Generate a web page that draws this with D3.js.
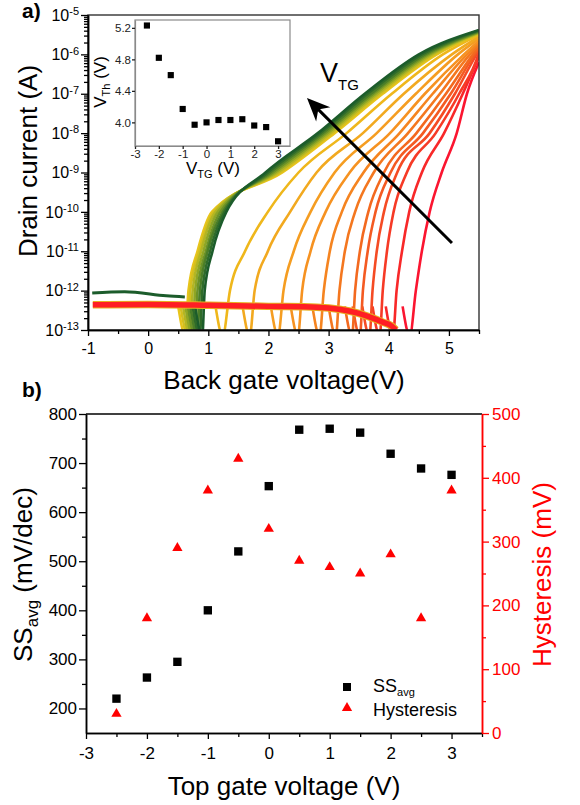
<!DOCTYPE html>
<html>
<head>
<meta charset="utf-8">
<script src="https://cdn.jsdelivr.net/npm/d3@7"></script>
<style>
  body { margin: 0; background: #fff; }
  svg { display: block; }
</style>
</head>
<body>
<script>
const FONT = "Arial, 'Liberation Sans', sans-serif";

// ---------- (a) transfer curves ----------
// log10(drain current) levels at which the crossing voltages are given
const levelExp = [-12, -11, -10, -9, -8, -7, -6];
const dipTopExp = -12.4;     // where a curve leaves the noise floor
const bottomExp = -13.15;    // bottom of the |I| dip
const edgeV = 5.5;

// green -> yellow bundle (high V_TG)
const clusterDips = [0.90, 0.86, 0.82, 0.78, 0.74, 0.70, 0.66, 0.62];
const clusterCross = [
  [0.94, 1.07, 1.30, 1.95, 2.82, 3.60, 4.50],
  [0.90, 1.03, 1.27, 1.99, 2.86, 3.65, 4.55],
  [0.86, 0.99, 1.24, 2.03, 2.90, 3.70, 4.60],
  [0.82, 0.96, 1.20, 2.07, 2.94, 3.74, 4.64],
  [0.78, 0.92, 1.16, 2.11, 2.98, 3.78, 4.68],
  [0.74, 0.88, 1.12, 2.15, 3.02, 3.82, 4.72],
  [0.70, 0.85, 1.09, 2.19, 3.06, 3.86, 4.76],
  [0.67, 0.82, 1.06, 2.23, 3.10, 3.90, 4.80]
];
const clusterEnd = [-5.38, -5.39, -5.41, -5.42, -5.44, -5.45, -5.47, -5.48];
const clusterColors = ["#1c5c2b", "#2f6b2a", "#4b7e28", "#6c9227", "#8fa625", "#b3b523", "#d3bf1f", "#e8c41b"];

// orange -> red curves (low V_TG)
const shiftDips = [1.24, 1.69, 2.16, 2.49, 2.85, 3.12, 3.39, 3.52, 3.68, 3.85, 4.07, 4.35];
const shiftCross = [
  [1.36, 1.61, 1.99, 2.50, 3.30, 4.05, 4.90],
  [1.77, 1.99, 2.36, 2.80, 3.57, 4.25, 5.05],
  [2.25, 2.42, 2.70, 3.10, 3.80, 4.45, 5.15],
  [2.56, 2.70, 2.95, 3.35, 4.02, 4.60, 5.25],
  [2.92, 3.02, 3.22, 3.58, 4.18, 4.73, 5.30],
  [3.18, 3.27, 3.44, 3.75, 4.32, 4.85, 5.35],
  [3.44, 3.52, 3.66, 3.92, 4.46, 4.95, 5.40],
  [3.57, 3.65, 3.78, 4.03, 4.57, 5.03, 5.43],
  [3.73, 3.80, 3.92, 4.14, 4.68, 5.10, 5.46],
  [3.90, 3.97, 4.08, 4.30, 4.78, 5.17, 5.49],
  [4.13, 4.22, 4.34, 4.55, 4.92, 5.23, null],
  [4.45, 4.55, 4.68, 4.88, 5.13, 5.30, null]
];
const shiftEnd = [-5.50, -5.55, -5.60, -5.65, -5.70, -5.75, -5.80, -5.85, -5.90, -5.95, -6.05, -6.20];
const shiftColors = ["#efb71b", "#f2a91f", "#f59d21", "#f69221", "#f58420", "#f4771f", "#f3691f", "#f45a22", "#f54b24", "#f63a26", "#f82829", "#fb1530"];

// noise floors
const floorV   = [-0.92, 0, 1, 2, 2.8, 3.2, 3.5, 3.7, 3.9, 4.05, 4.12];
const floorExp = [-12.36, -12.35, -12.37, -12.40, -12.42, -12.48, -12.58, -12.68, -12.80, -12.90, -13.0];
const greenFloorV   = [-0.93, -0.39, 0.3, 0.61];
const greenFloorExp = [-12.06, -12.03, -12.13, -12.16];

// V_TG arrow (tail, head)
const arrowV = [5.05, 2.64];
const arrowExp = [-10.79, -7.11];

const topXTicks = [-1, 0, 1, 2, 3, 4, 5];
const topXMinor = [-0.5, 0.5, 1.5, 2.5, 3.5, 4.5, 5.5];
const topYExps = [-13, -12, -11, -10, -9, -8, -7, -6, -5];

// inset: threshold voltage vs top gate
const insetVtg = [-2.5, -2, -1.5, -1, -0.5, 0, 0.5, 1, 1.5, 2, 2.5, 3];
const insetVth = [5.23, 4.82, 4.60, 4.17, 3.97, 4.00, 4.03, 4.03, 4.04, 3.96, 3.94, 3.76];
const insetXTicks = [-3, -2, -1, 0, 1, 2, 3];
const insetYTicks = [4.0, 4.4, 4.8, 5.2];

// ---------- (b) SS and hysteresis ----------
const topGate = [-2.5, -2, -1.5, -1, -0.5, 0, 0.5, 1, 1.5, 2, 2.5, 3];
const ssAvg = [220, 263, 295, 400, 520, 653, 768, 770, 762, 719, 689, 676];
const hyst  = [30, 180, 290, 380, 430, 320, 270, 260, 250, 280, 180, 380];
const bXTicks = [-3, -2, -1, 0, 1, 2, 3];
const bXMinor = [-2.5, -1.5, -0.5, 0.5, 1.5, 2.5, 3.5];
const ssTicks = [200, 300, 400, 500, 600, 700, 800];
const ssMinor = [250, 350, 450, 550, 650, 750];
const hTicks = [0, 100, 200, 300, 400, 500];
const hMinor = [50, 150, 250, 350, 450];

const svg = d3.select("body").append("svg")
    .attr("width", 580).attr("height", 805)
    .style("font-family", FONT);

function styleAxis(g, size, color) {
    g.attr("font-family", FONT).attr("font-size", size);
    g.select(".domain").attr("stroke", color).attr("stroke-width", 1.5);
    g.selectAll(".tick line").attr("stroke", color).attr("stroke-width", 1.3);
    g.selectAll(".tick text").attr("fill", color);
}

// ================= panel a =================
const xT = d3.scaleLinear().domain([-1, 5.5]).range([88, 479]);
const yT = d3.scaleLog().domain([1e-13, 1e-5]).range([330, 15]);
const p10 = e => Math.pow(10, e);

svg.append("defs").append("clipPath").attr("id", "clipA")
  .append("rect").attr("x", 88).attr("y", 15).attr("width", 391).attr("height", 315);

const curveLine = d3.line()
    .x(d => xT(d[0])).y(d => yT(p10(d[1])))
    .curve(d3.curveMonotoneX);

function curvePoints(dip, cross, end) {
    let pts = [[dip - 0.12, dipTopExp], [dip, bottomExp]];
    cross.forEach((v, i) => { if (v != null) pts.push([v, levelExp[i]]); });
    pts.push([edgeV, end]);
    return pts;
}

const plotA = svg.append("g").attr("clip-path", "url(#clipA)");

// reds first, then oranges, then the yellow->green bundle on top
for (let i = shiftDips.length - 1; i >= 0; i--) {
    plotA.append("path")
        .attr("d", curveLine(curvePoints(shiftDips[i], shiftCross[i], shiftEnd[i])))
        .attr("fill", "none").attr("stroke", shiftColors[i]).attr("stroke-width", 2.6);
}
for (let i = clusterDips.length - 1; i >= 0; i--) {
    plotA.append("path")
        .attr("d", curveLine(curvePoints(clusterDips[i], clusterCross[i], clusterEnd[i])))
        .attr("fill", "none").attr("stroke", clusterColors[i]).attr("stroke-width", 2.6);
}

// noise floors
plotA.append("path")
    .attr("d", curveLine(greenFloorV.map((v, i) => [v, greenFloorExp[i]])))
    .attr("fill", "none").attr("stroke", "#1c5c2b").attr("stroke-width", 3);
plotA.append("path")
    .attr("d", curveLine(floorV.map((v, i) => [v, floorExp[i]])))
    .attr("fill", "none").attr("stroke", "#e8b020").attr("stroke-width", 7.5);
plotA.append("path")
    .attr("d", curveLine(floorV.map((v, i) => [v, floorExp[i]])))
    .attr("fill", "none").attr("stroke", "#ff1e24").attr("stroke-width", 5.5);

// frame
svg.append("rect").attr("x", 88).attr("y", 15).attr("width", 391).attr("height", 315)
    .attr("fill", "none").attr("stroke", "#333").attr("stroke-width", 1.4);

// axes
const gxA = svg.append("g").attr("transform", "translate(0,330)")
    .call(d3.axisBottom(xT).tickValues(topXTicks).tickFormat(d => String(d))
        .tickSize(6).tickPadding(7).tickSizeOuter(0));
styleAxis(gxA, 16, "#000");
const gxAm = svg.append("g").attr("transform", "translate(0,330)")
    .call(d3.axisBottom(xT).tickValues(topXMinor).tickFormat("").tickSize(4).tickSizeOuter(0));
styleAxis(gxAm, 16, "#000");

let logMinor = [];
topYExps.slice(0, -1).forEach(e => { for (let k = 2; k <= 9; k++) logMinor.push(k * p10(e)); });
const gyAm = svg.append("g").attr("transform", "translate(88,0)")
    .call(d3.axisLeft(yT).tickValues(logMinor).tickFormat("").tickSize(4).tickSizeOuter(0));
styleAxis(gyAm, 16, "#000");
const gyA = svg.append("g").attr("transform", "translate(88,0)")
    .call(d3.axisLeft(yT).tickValues(topYExps.map(p10)).tickSize(7).tickPadding(2).tickSizeOuter(0));
styleAxis(gyA, 16, "#000");
gyA.selectAll(".tick text").each(function(d) {
    const t = d3.select(this).text("");
    t.append("tspan").text("10");
    t.append("tspan").attr("dy", "-0.5em").attr("font-size", 11)
        .text(String(Math.round(Math.log10(d))));
});

// arrow
const ax0 = xT(arrowV[0]), ay0 = yT(p10(arrowExp[0]));
const ax1 = xT(arrowV[1]), ay1 = yT(p10(arrowExp[1]));
const alen = Math.hypot(ax1 - ax0, ay1 - ay0);
const ang = Math.atan2(ay1 - ay0, ax1 - ax0) * 180 / Math.PI;
svg.append("line")
    .attr("x1", ax0).attr("y1", ay0)
    .attr("x2", ax1 - (ax1 - ax0) / alen * 12).attr("y2", ay1 - (ay1 - ay0) / alen * 12)
    .attr("stroke", "#000").attr("stroke-width", 3);
svg.append("path")
    .attr("d", "M0,0 L-23,-10 L-16,0 L-23,10 Z")
    .attr("transform", `translate(${ax1},${ay1}) rotate(${ang})`)
    .attr("fill", "#000");

const vtg = svg.append("text").attr("x", 320).attr("y", 82).attr("font-size", 27);
vtg.append("tspan").text("V");
vtg.append("tspan").attr("dy", 8).attr("font-size", 15).text("TG");

// titles
svg.append("text").attr("x", 22).attr("y", 18)
    .attr("font-size", 21).attr("font-weight", "bold").text("a)");
svg.append("text").attr("transform", "translate(37,161) rotate(-90)")
    .attr("text-anchor", "middle").attr("font-size", 26).text("Drain current (A)");
svg.append("text").attr("x", 284).attr("y", 389)
    .attr("text-anchor", "middle").attr("font-size", 26).text("Back gate voltage(V)");

// ---------- inset ----------
const xI = d3.scaleLinear().domain([-3, 3.5]).range([135, 290]);
const yI = d3.scaleLinear().domain([3.7, 5.3]).range([146, 20]);
svg.append("rect").attr("x", 135).attr("y", 20).attr("width", 155).attr("height", 126)
    .attr("fill", "#fff").attr("stroke", "#8a8a8a").attr("stroke-width", 1.2);

const gxI = svg.append("g").attr("transform", "translate(0,146)")
    .call(d3.axisBottom(xI).tickValues(insetXTicks).tickFormat(d => String(d))
        .tickSize(3).tickPadding(1).tickSizeOuter(0));
styleAxis(gxI, 11.5, "#222");
gxI.select(".domain").attr("stroke", "#8a8a8a").attr("stroke-width", 1.2);
const gyI = svg.append("g").attr("transform", "translate(135,0)")
    .call(d3.axisLeft(yI).tickValues(insetYTicks).tickFormat(d3.format(".1f"))
        .tickSize(3).tickPadding(1).tickSizeOuter(0));
styleAxis(gyI, 11.5, "#222");
gyI.select(".domain").attr("stroke", "#8a8a8a").attr("stroke-width", 1.2);

svg.append("g").selectAll("path").data(insetVtg).enter().append("path")
    .attr("d", d3.symbol(d3.symbolSquare, 38))
    .attr("transform", (d, i) => `translate(${xI(d)},${yI(insetVth[i])})`)
    .attr("fill", "#000");

const ivth = svg.append("text").attr("transform", "translate(106,82) rotate(-90)")
    .attr("text-anchor", "middle").attr("font-size", 17);
ivth.append("tspan").text("V");
ivth.append("tspan").attr("dy", 4).attr("font-size", 11).text("Th");
ivth.append("tspan").attr("dy", -4).text(" (V)");
const ivtg = svg.append("text").attr("x", 213).attr("y", 174)
    .attr("text-anchor", "middle").attr("font-size", 17);
ivtg.append("tspan").text("V");
ivtg.append("tspan").attr("dy", 4).attr("font-size", 11).text("TG");
ivtg.append("tspan").attr("dy", -4).text(" (V)");

// ================= panel b =================
const xB = d3.scaleLinear().domain([-3, 3.5]).range([86, 482]);
const yL = d3.scaleLinear().domain([150, 800]).range([733, 414]);
const yR = d3.scaleLinear().domain([0, 500]).range([733, 414]);

svg.append("line").attr("x1", 86).attr("x2", 482).attr("y1", 414).attr("y2", 414)
    .attr("stroke", "#000").attr("stroke-width", 1.5);

const gxB = svg.append("g").attr("transform", "translate(0,733)")
    .call(d3.axisBottom(xB).tickValues(bXTicks).tickFormat(d => String(d))
        .tickSize(6).tickPadding(8).tickSizeOuter(0));
styleAxis(gxB, 17, "#000");
const gxBm = svg.append("g").attr("transform", "translate(0,733)")
    .call(d3.axisBottom(xB).tickValues(bXMinor).tickFormat("").tickSize(4).tickSizeOuter(0));
styleAxis(gxBm, 17, "#000");

const gyL = svg.append("g").attr("transform", "translate(86,0)")
    .call(d3.axisLeft(yL).tickValues(ssTicks).tickSize(7).tickPadding(2).tickSizeOuter(0));
styleAxis(gyL, 17, "#000");
const gyLm = svg.append("g").attr("transform", "translate(86,0)")
    .call(d3.axisLeft(yL).tickValues(ssMinor).tickFormat("").tickSize(4).tickSizeOuter(0));
styleAxis(gyLm, 17, "#000");

const gyR = svg.append("g").attr("transform", "translate(482,0)")
    .call(d3.axisRight(yR).tickValues(hTicks).tickSize(7).tickPadding(3).tickSizeOuter(0));
styleAxis(gyR, 17, "#ff0000");
const gyRm = svg.append("g").attr("transform", "translate(482,0)")
    .call(d3.axisRight(yR).tickValues(hMinor).tickFormat("").tickSize(4).tickSizeOuter(0));
styleAxis(gyRm, 17, "#ff0000");

svg.append("g").selectAll("path").data(topGate).enter().append("path")
    .attr("d", d3.symbol(d3.symbolSquare, 70))
    .attr("transform", (d, i) => `translate(${xB(d)},${yL(ssAvg[i])})`)
    .attr("fill", "#000");
svg.append("g").selectAll("path").data(topGate).enter().append("path")
    .attr("d", d3.symbol(d3.symbolTriangle, 46))
    .attr("transform", (d, i) => `translate(${xB(d)},${yR(hyst[i])})`)
    .attr("fill", "#ff0000");

// legend
svg.append("path").attr("d", d3.symbol(d3.symbolSquare, 64))
    .attr("transform", "translate(347,687)").attr("fill", "#000");
svg.append("path").attr("d", d3.symbol(d3.symbolTriangle, 46))
    .attr("transform", "translate(347,708)").attr("fill", "#ff0000");
const lg1 = svg.append("text").attr("x", 373).attr("y", 692).attr("font-size", 18);
lg1.append("tspan").text("SS");
lg1.append("tspan").attr("dy", 4).attr("font-size", 11).text("avg");
svg.append("text").attr("x", 373).attr("y", 716).attr("font-size", 18).text("Hysteresis");

// titles
svg.append("text").attr("x", 22).attr("y", 397)
    .attr("font-size", 21).attr("font-weight", "bold").text("b)");
const ssT = svg.append("text").attr("transform", "translate(32,662) rotate(-90)")
    .attr("font-size", 26);
ssT.append("tspan").text("SS");
ssT.append("tspan").attr("dy", 6).attr("font-size", 17).text("avg");
ssT.append("tspan").attr("dy", -6).text(" (mV/dec)");
svg.append("text").attr("transform", "translate(551,667) rotate(-90)")
    .attr("font-size", 26).attr("fill", "#ff0000").text("Hysteresis (mV)");
svg.append("text").attr("x", 284).attr("y", 795)
    .attr("text-anchor", "middle").attr("font-size", 26).text("Top gate voltage (V)");
</script>
</body>
</html>
